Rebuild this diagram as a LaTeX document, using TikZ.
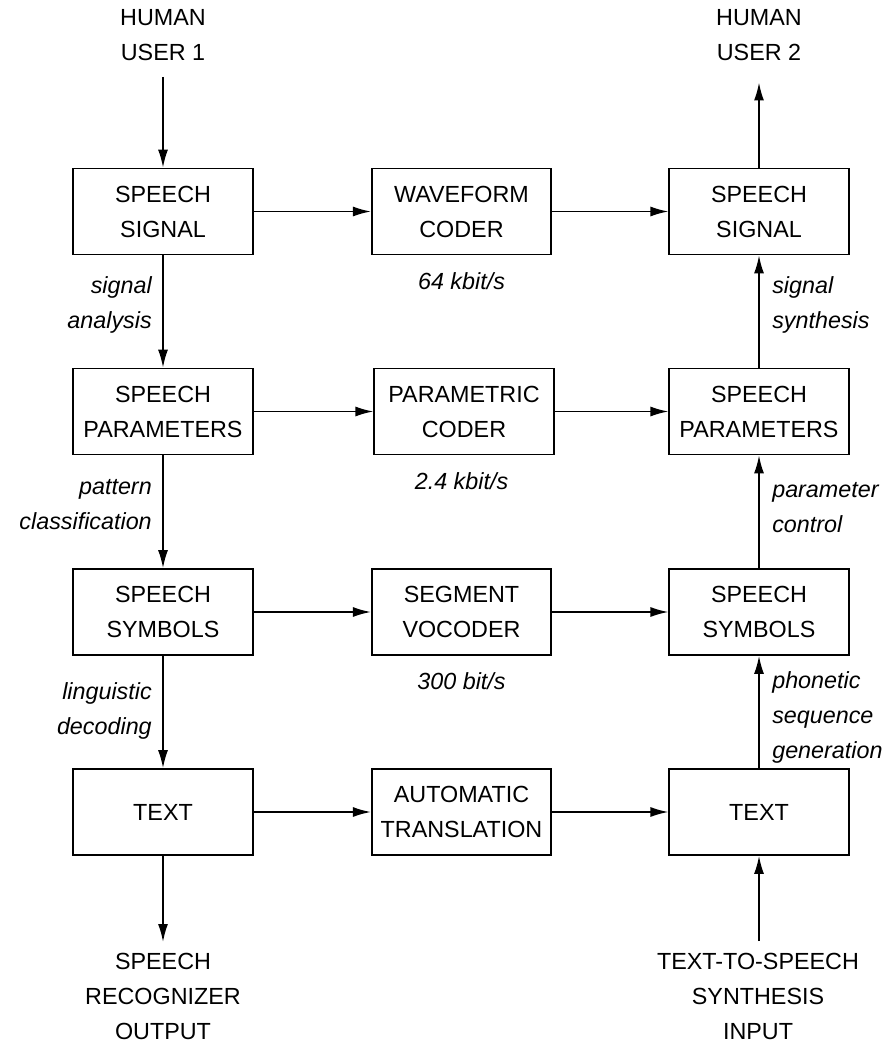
\documentclass[tikz,border=0pt]{standalone}
\usepackage{fontspec}
\setmainfont{Liberation Sans}
\usetikzlibrary{arrows.meta}
\newcommand{\dfont}{\fontsize{17.5}{26.25}\selectfont}
\begin{document}
\begin{tikzpicture}[x=0.75pt,y=-0.75pt,
  box/.style={draw, line width=1.3pt, minimum width=134.5pt, minimum height=64.5pt, align=center, inner sep=0pt, font=\dfont},
  term/.style={align=center, font=\dfont, inner sep=0pt},
  note/.style={font=\dfont\itshape, inner sep=0pt},
  rate/.style={font=\dfont\itshape, inner sep=0pt},
  arr/.style={line width=1.3pt, -{Latex[length=13.5pt,width=7.5pt]}},
]
\fill[white] (0,0) rectangle (886,1044);
\useasboundingbox (0,0) rectangle (886,1044);

% terminals
\node[term] (u1) at (163,35.5) {HUMAN\\USER 1};
\node[term] (u2) at (759,35.5) {HUMAN\\USER 2};
\node[term] (out) at (163,996) {SPEECH\\RECOGNIZER\\OUTPUT};
\node[term] (in) at (758,996) {TEXT-TO-SPEECH\\SYNTHESIS\\INPUT};

% left column
\node[box] (L1) at (163,211.5) {SPEECH\\SIGNAL};
\node[box] (L2) at (163,411.5) {SPEECH\\PARAMETERS};
\node[box] (L3) at (163,612) {SPEECH\\SYMBOLS};
\node[box] (L4) at (163,812) {TEXT};

% middle column
\node[box] (M1) at (461.5,211.5) {WAVEFORM\\CODER};
\node[box] (M2) at (464,411.5) {PARAMETRIC\\CODER};
\node[box] (M3) at (461.5,612) {SEGMENT\\VOCODER};
\node[box] (M4) at (461.5,812) {AUTOMATIC\\TRANSLATION};

% right column
\node[box] (R1) at (759,211.5) {SPEECH\\SIGNAL};
\node[box] (R2) at (759,411.5) {SPEECH\\PARAMETERS};
\node[box] (R3) at (759,612) {SPEECH\\SYMBOLS};
\node[box] (R4) at (759,812) {TEXT};

% rate labels
\node[rate] (r1) at (461.5,281) {64 kbit/s};
\node[rate] (r2) at (461.5,481.5) {2.4 kbit/s};
\node[rate] (r3) at (461.5,681.5) {300 bit/s};

% side labels
\node[note, align=right, anchor=east] (la) at (152,304.5) {signal\\analysis};
\node[note, align=right, anchor=east] (lb) at (152,504.5) {pattern\\classification};
\node[note, align=right, anchor=east] (lc) at (152,710.5) {linguistic\\decoding};
\node[note, align=left, anchor=west] (ra) at (772,304.5) {signal\\synthesis};
\node[note, align=left, anchor=west] (rb) at (772,508) {parameter\\control};
\node[note, align=left, anchor=west] (rc) at (772,717) {phonetic\\sequence\\generation};

% free ends
\coordinate (u1a) at (163,77);
\coordinate (u2a) at (759,82.5);
\coordinate (outa) at (163,942);
\coordinate (ina) at (759,941);

% vertical arrows
\draw[arr] (u1a) -- (L1.north);
\draw[arr] (L1) -- (L2);
\draw[arr] (L2) -- (L3);
\draw[arr] (L3) -- (L4);
\draw[arr] (L4.south) -- (outa);

\draw[arr] (R1.north) -- (u2a);
\draw[arr] (R2) -- (R1);
\draw[arr] (R3) -- (R2);
\draw[arr] (R4) -- (R3);
\draw[arr] (ina) -- (R4.south);

% horizontal arrows
\draw[arr] (L1) -- (M1);
\draw[arr] (M1) -- (R1);
\draw[arr] (L2) -- (M2);
\draw[arr] (M2) -- (R2);
\draw[arr] (L3) -- (M3);
\draw[arr] (M3) -- (R3);
\draw[arr] (L4) -- (M4);
\draw[arr] (M4) -- (R4);
\end{tikzpicture}
\end{document}
